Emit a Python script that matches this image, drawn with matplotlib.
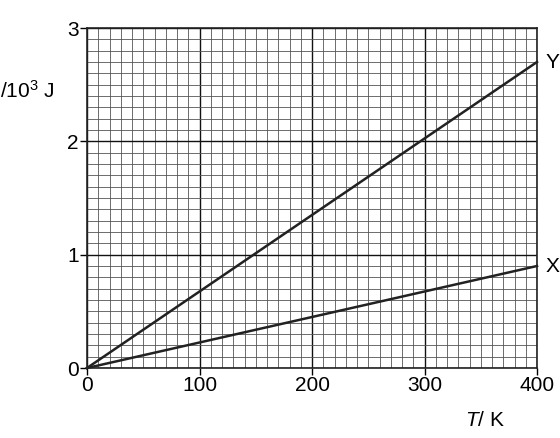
import numpy as np
import matplotlib.pyplot as plt
from matplotlib.ticker import MultipleLocator

plt.rcParams['font.family'] = ['Liberation Sans', 'DejaVu Sans']
plt.rcParams['mathtext.fontset'] = 'custom'
plt.rcParams['mathtext.rm'] = 'Liberation Sans'
plt.rcParams['mathtext.it'] = 'Liberation Sans:italic'

# data
T = [0, 400]
line_x = [0, 0.9]
line_y = [0, 2.7]
xticks = [0, 100, 200, 300, 400]
yticks = [0, 1, 2, 3]

fig = plt.figure(figsize=(5.6, 4.38), dpi=100)
ax = fig.add_axes([87 / 560, 1 - 368 / 438, 450 / 560, 340 / 438])

ax.set_xlim(0, 400)
ax.set_ylim(0, 3)
ax.set_xticks(xticks)
ax.set_yticks(yticks)
ax.xaxis.set_minor_locator(MultipleLocator(10))
ax.yaxis.set_minor_locator(MultipleLocator(0.1))
ax.grid(which='minor', color='#555555', lw=0.6)
ax.grid(which='major', color='#111111', lw=1.0)
ax.set_axisbelow(True)
ax.tick_params(which='major', direction='out', length=5, width=1.0, labelsize=15, pad=1)
ax.tick_params(which='minor', length=0)
for s in ax.spines.values():
    s.set_linewidth(1.2)
    s.set_color('#222222')

ax.plot(T, line_y, color='#222222', lw=1.8, clip_on=False)
ax.plot(T, line_x, color='#222222', lw=1.8, clip_on=False)

ax.text(T[-1] + 8, line_y[-1], 'Y', fontsize=15, ha='left', va='center')
ax.text(T[-1] + 8, line_x[-1], 'X', fontsize=15, ha='left', va='center')

fig.text(485 / 560, 1 - 420 / 438, '$\\mathit{T}$/ K', fontsize=15, ha='center', va='center')
fig.text(0, 1 - 91 / 438, '/10$^3$ J', fontsize=15, ha='left', va='center')

fig.savefig('out.png', dpi=100)
